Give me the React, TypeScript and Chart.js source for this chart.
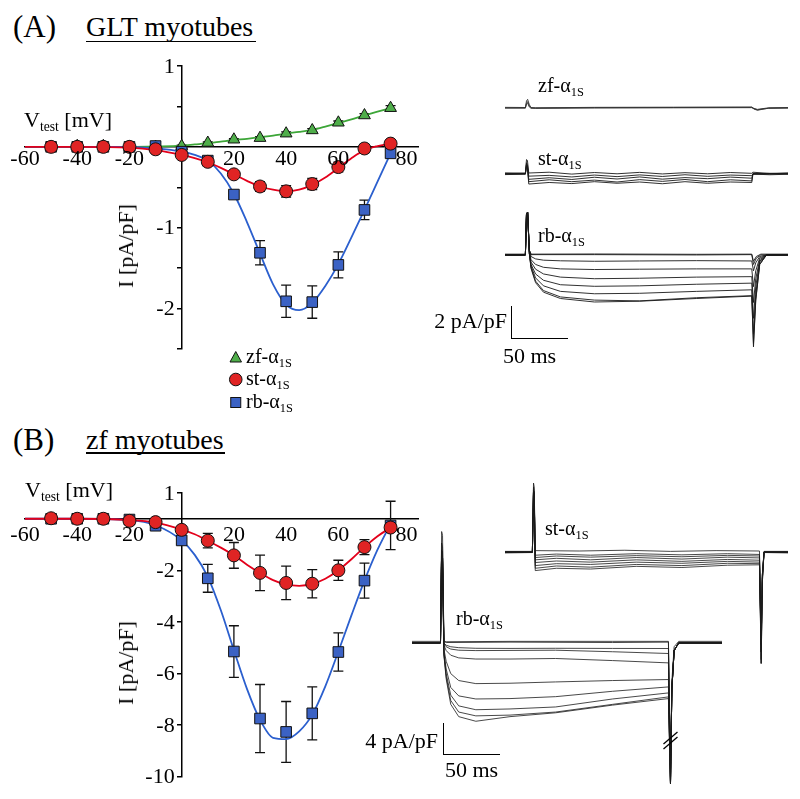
import React, { useEffect, useRef } from "react";
import { Chart, registerables } from "chart.js";

Chart.register(...registerables);

const FONT = "'Liberation Serif','Times New Roman',Times,serif";
Chart.defaults.font.family = FONT;
Chart.defaults.color = "#000";

// ---------------- I-V data ----------------
const VOLTAGES = [-50, -40, -30, -20, -10, 0, 10, 20, 30, 40, 50, 60, 70, 80];
const X_TICKS = [-60, -40, -20, 0, 20, 40, 60, 80];
const X_LABELS = [-60, -40, -20, 20, 40, 60, 80];

// Panel A (GLT myotubes)
const A_Y_TICKS = [-2.5, -2, -1.5, -1, -0.5, 0, 0.5, 1];
const A_Y_LABELS = [1, -1, -2];
const A_ZF = [0, 0.01, 0.01, 0, 0, 0.01, 0.05, 0.09, 0.11, 0.165, 0.205, 0.3, 0.39, 0.48];
const A_ZF_ERR = [0, 0, 0, 0, 0, 0.01, 0.01, 0.01, 0.015, 0.02, 0.02, 0.02, 0.02, 0.03];
const A_ST = [0, 0, 0, 0, -0.03, -0.1, -0.185, -0.34, -0.49, -0.55, -0.46, -0.25, -0.02, 0.04];
const A_ST_ERR = [0, 0, 0, 0, 0.02, 0.02, 0.03, 0.04, 0.06, 0.07, 0.07, 0.06, 0.05, 0.02];
const A_RB = [0, 0, 0, 0, 0.01, -0.06, -0.17, -0.59, -1.31, -1.91, -1.92, -1.46, -0.78, -0.08];
const A_RB_ERR = [0, 0, 0, 0, 0, 0.02, 0.03, 0.04, 0.15, 0.2, 0.2, 0.16, 0.12, 0.05];

// Fitted curves
const FIT_V = [-60, -40, -20, -10, 0, 5, 10, 15, 20, 25, 30, 35, 40, 45, 50, 55, 60, 65, 70, 75, 80];
const A_ZF_FIT = [0, 0, 0, 0.005, 0.015, 0.03, 0.045, 0.065, 0.085, 0.1, 0.12, 0.14, 0.165, 0.185, 0.21, 0.25, 0.295, 0.34, 0.39, 0.435, 0.48];
const A_ST_FIT = [0, 0, -0.01, -0.04, -0.1, -0.14, -0.19, -0.26, -0.34, -0.42, -0.49, -0.53, -0.55, -0.53, -0.47, -0.38, -0.26, -0.14, -0.04, 0.01, 0.04];
const A_RB_FIT = [0, 0, 0, -0.02, -0.06, -0.1, -0.17, -0.33, -0.58, -0.93, -1.32, -1.7, -1.95, -2.02, -1.93, -1.72, -1.45, -1.12, -0.78, -0.43, -0.08];

// Panel B (zf myotubes)
const B_Y_TICKS = [-10, -8, -6, -4, -2, 0, 1];
const B_Y_LABELS = [1, -2, -4, -6, -8, -10];
const B_ST = [0.02, 0, 0, -0.08, -0.13, -0.43, -0.85, -1.42, -2.1, -2.49, -2.52, -2.0, -1.1, -0.34];
const B_ST_ERR = [0.05, 0.05, 0.05, 0.05, 0.05, 0.1, 0.28, 0.5, 0.69, 0.65, 0.55, 0.39, 0.29, 0.1];
const B_RB = [0, 0, 0, -0.03, -0.27, -0.84, -2.31, -5.15, -7.75, -8.27, -7.55, -5.17, -2.4, -0.26];
const B_RB_ERR = [0.05, 0.05, 0.05, 0.05, 0.1, 0.15, 0.54, 1.0, 1.32, 1.18, 1.03, 0.74, 0.68, 0.94];
const B_ST_FIT = [0, 0, -0.05, -0.15, -0.42, -0.6, -0.85, -1.12, -1.42, -1.78, -2.1, -2.38, -2.55, -2.6, -2.53, -2.33, -2.0, -1.57, -1.1, -0.68, -0.34];
const B_RB_FIT = [0, 0, -0.05, -0.25, -0.84, -1.4, -2.25, -3.55, -5.1, -6.6, -7.8, -8.5, -8.55, -8.25, -7.6, -6.5, -5.15, -3.75, -2.4, -1.2, -0.2];

// ---------------- current traces ([ms, pA/pF]) ----------------
const ZF_A_SWEEPS = [
  [[-19, 0], [-1, 0], [0, 0.45], [1, 0.55], [2.5, 0.2], [4, 0.02], [8, -0.02], [60, 0.01], [130, 0.02], [199, 0.03], [201, -0.08], [204, -0.16], [208, -0.1], [214, -0.02], [231, 0]],
  [[-19, 0.03], [-1, 0.02], [0, 0.3], [1, 0.4], [2.5, 0.12], [4, 0], [8, 0], [60, 0.03], [130, 0.04], [199, 0.05], [201, -0.04], [204, -0.1], [208, -0.06], [214, 0], [231, 0.02]],
  [[-19, -0.02], [-1, -0.02], [0, 0.25], [1, 0.3], [2.5, 0.05], [4, -0.03], [8, -0.03], [60, -0.01], [130, 0], [199, 0.01], [201, -0.06], [204, -0.13], [208, -0.08], [214, -0.03], [231, -0.02]],
];

const ST_A_SWEEPS = [
  [[-19, 0.05], [-1, 0.05], [0, 0.9], [0.8, 0.85], [2, 0.05], [20, 0.1], [40, -0.02], [60, 0.08], [80, 0], [100, 0.09], [120, -0.01], [140, 0.07], [160, 0], [180, 0.08], [199, 0.03], [200, 0.1], [215, 0.02], [231, 0.06]],
  [[-19, -0.05], [-1, -0.03], [0, 0.7], [0.8, 0.6], [2, -0.15], [20, -0.1], [40, -0.2], [60, -0.08], [80, -0.18], [100, -0.07], [120, -0.17], [140, -0.06], [160, -0.16], [180, -0.08], [199, -0.12], [200, -0.02], [215, -0.06], [231, -0.03]],
  [[-19, 0], [-1, 0.02], [0, 0.6], [0.8, 0.5], [2, -0.35], [20, -0.25], [40, -0.36], [60, -0.22], [80, -0.33], [100, -0.2], [120, -0.34], [140, -0.24], [160, -0.31], [180, -0.21], [199, -0.28], [200, 0], [215, 0.03], [231, 0]],
  [[-19, 0.03], [-1, 0], [0, 0.5], [0.8, 0.4], [2, -0.5], [20, -0.38], [40, -0.5], [60, -0.4], [80, -0.52], [100, -0.37], [120, -0.48], [140, -0.36], [160, -0.5], [180, -0.38], [199, -0.45], [200, 0.02], [215, -0.02], [231, 0.02]],
  [[-19, -0.02], [-1, 0], [0, 0.5], [0.8, 0.4], [2, -0.65], [20, -0.55], [40, -0.62], [60, -0.5], [80, -0.6], [100, -0.52], [120, -0.63], [140, -0.5], [160, -0.6], [180, -0.52], [199, -0.55], [200, -0.03], [215, 0.01], [231, -0.01]],
];

const RB_A_SWEEPS = [
  [[-19, 0], [-1, 0], [0, 2.6], [1, 2.7], [2.5, 0.3], [4, 0.02], [60, 0.02], [150, 0], [199, 0.02], [200.5, -0.6], [203, -0.2], [207, 0], [231, 0]],
  [[-19, 0.05], [-1, 0.05], [0, 2.5], [1, 2.6], [2.5, 0.3], [4, 0.05], [60, 0.06], [150, 0.04], [199, 0.05], [200.5, -0.4], [203, -0.1], [207, 0.05], [231, 0.05]],
  [[-19, 0], [-1, 0], [0, 2.6], [1, 2.7], [2.5, 0.3], [4, -0.1], [8, -0.25], [15, -0.33], [30, -0.37], [60, -0.4], [100, -0.38], [150, -0.36], [199, -0.38], [200.5, -1.0], [202.5, -0.5], [206, -0.1], [212, 0], [231, 0]],
  [[-19, 0], [-1, 0], [0, 2.6], [1, 2.7], [2.5, 0.2], [4, -0.3], [8, -0.6], [15, -0.78], [30, -0.88], [60, -0.92], [100, -0.9], [150, -0.88], [199, -0.88], [200.5, -2.0], [202.5, -1.0], [206, -0.2], [212, 0], [231, 0]],
  [[-19, 0], [-1, 0], [0, 2.6], [1, 2.7], [2.5, 0.2], [4, -0.45], [8, -0.9], [15, -1.2], [30, -1.4], [60, -1.5], [100, -1.47], [150, -1.4], [199, -1.37], [200.5, -3.0], [202.5, -1.5], [206, -0.3], [212, 0], [231, 0]],
  [[-19, 0], [-1, 0], [0, 2.6], [1, 2.7], [2.5, 0.1], [4, -0.6], [8, -1.2], [15, -1.6], [30, -1.88], [60, -1.98], [100, -1.95], [150, -1.85], [199, -1.78], [200.5, -4.0], [202.5, -2.0], [206, -0.4], [212, 0], [231, 0]],
  [[-19, 0], [-1, 0], [0, 2.6], [1, 2.7], [2.5, 0.1], [4, -0.7], [8, -1.45], [15, -1.95], [30, -2.3], [60, -2.45], [100, -2.42], [150, -2.3], [199, -2.2], [200.5, -5.0], [202.5, -2.5], [206, -0.5], [212, 0], [231, 0]],
  [[-19, 0], [-1, 0], [0, 2.6], [1, 2.7], [2.5, 0.1], [4, -0.8], [8, -1.65], [15, -2.25], [30, -2.65], [60, -2.85], [100, -2.9], [150, -2.7], [199, -2.57], [200.5, -5.8], [202.5, -2.9], [206, -0.6], [212, 0], [231, 0]],
  [[-19, 0], [-1, 0], [0, 2.6], [1, 2.7], [2.5, 0.1], [4, -0.85], [8, -1.75], [15, -2.35], [30, -2.75], [60, -2.97], [100, -2.92], [150, -2.75], [199, -2.6], [200.5, -5.6], [202.5, -2.8], [206, -0.6], [212, 0], [231, 0]],
];

const ST_B_SWEEPS = [
  [[-25, 0.1], [-1, 0.1], [0, 9], [0.6, 8.5], [1.5, 0.2], [40, 0.15], [80, 0.25], [120, 0.1], [160, 0.2], [198, 0.15], [199.5, -14.5], [200.5, -4], [202, 0.1], [223, 0.1]],
  [[-25, -0.1], [-1, -0.05], [0, 8.5], [0.6, 8], [1.5, -0.4], [20, -0.25], [50, -0.4], [90, -0.2], [130, -0.35], [170, -0.2], [198, -0.3], [199.5, -13], [200.5, -3.5], [202, -0.05], [223, -0.1]],
  [[-25, 0], [-1, 0], [0, 8], [0.6, 7.5], [1.5, -0.7], [20, -0.5], [50, -0.65], [90, -0.45], [130, -0.6], [170, -0.42], [198, -0.5], [199.5, -12], [200.5, -3], [202, 0], [223, 0]],
  [[-25, 0.05], [-1, 0.05], [0, 8], [0.6, 7.5], [1.5, -1.0], [20, -0.8], [50, -1.0], [90, -0.7], [130, -0.9], [170, -0.65], [198, -0.75], [199.5, -12], [200.5, -3], [202, 0.05], [223, 0.05]],
  [[-25, -0.05], [-1, 0], [0, 8], [0.6, 7.5], [1.5, -1.35], [20, -1.15], [50, -1.3], [90, -1.0], [130, -1.2], [170, -0.95], [198, -1.05], [199.5, -12], [200.5, -3], [202, 0], [223, -0.05]],
  [[-25, 0], [-1, 0], [0, 8], [0.6, 7.5], [1.5, -1.75], [20, -1.5], [50, -1.6], [90, -1.3], [130, -1.45], [170, -1.2], [198, -1.3], [199.5, -13], [200.5, -3.5], [202, 0], [223, 0]],
  [[-25, 0.05], [-1, 0], [0, 8], [0.6, 7.5], [1.5, -2.1], [20, -1.8], [50, -1.95], [90, -1.6], [130, -1.75], [170, -1.45], [198, -1.5], [199.5, -14], [200.5, -3.5], [202, 0.05], [223, 0]],
  [[-25, 0], [-1, 0], [0, 8], [0.6, 7.5], [1.5, -2.4], [20, -2.1], [50, -2.2], [90, -1.85], [130, -2.0], [170, -1.7], [198, -1.65], [199.5, -14.5], [200.5, -4], [202, 0], [223, 0]],
];

const RB_B_SWEEPS = [
  [[-26, 0], [-1, 0], [0, 14.5], [0.8, 14], [2, 0.2], [4, 0.05], [60, 0.1], [150, 0.05], [199, 0.1], [200.8, -18.3], [202, -6], [204, -1], [208, 0], [246, 0]],
  [[-26, 0.2], [-1, 0.2], [0, 13], [0.8, 12.5], [2, 0.2], [4, 0.15], [60, 0.2], [150, 0.2], [199, 0.2], [200.8, -16], [202, -5], [204, -0.5], [208, 0.2], [246, 0.2]],
  [[-26, 0], [-1, 0], [0, 12], [0.8, 11], [2, 0], [4, -0.3], [8, -0.5], [15, -0.62], [30, -0.7], [60, -0.72], [100, -0.7], [150, -0.72], [199, -0.73], [200.8, -18.3], [202, -6], [204, -1], [208, 0], [246, 0]],
  [[-26, 0], [-1, 0], [0, 12], [0.8, 11], [2, -0.1], [4, -0.5], [8, -0.8], [15, -0.95], [30, -1.0], [60, -0.98], [100, -0.95], [150, -1.15], [199, -1.38], [200.8, -18.3], [202, -6], [204, -1], [208, 0], [246, 0]],
  [[-26, 0], [-1, 0], [0, 12], [0.8, 11], [2, -0.3], [4, -1.0], [8, -1.6], [15, -1.95], [30, -2.1], [60, -2.1], [100, -2.03], [150, -2.3], [199, -2.6], [200.8, -18.3], [202, -6], [204, -1], [208, 0], [246, 0]],
  [[-26, 0], [-1, 0], [0, 12], [0.8, 11], [2, -0.8], [4, -2.4], [8, -4.0], [15, -4.9], [30, -5.3], [60, -5.25], [100, -5.08], [150, -4.9], [199, -4.77], [200.8, -18.3], [202, -6], [204, -1], [208, 0], [246, 0]],
  [[-26, 0], [-1, 0], [0, 12], [0.8, 11], [2, -1.2], [4, -3.4], [8, -5.8], [15, -6.9], [30, -7.3], [60, -7.25], [100, -7.0], [150, -6.3], [199, -5.73], [200.8, -18.3], [202, -6], [204, -1], [208, 0], [246, 0]],
  [[-26, 0], [-1, 0], [0, 12], [0.8, 11], [2, -1.4], [4, -4.0], [8, -6.8], [15, -8.2], [30, -8.7], [60, -8.6], [100, -8.34], [150, -7.3], [199, -6.51], [200.8, -18.3], [202, -6], [204, -1], [208, 0], [246, 0]],
  [[-26, 0], [-1, 0], [0, 12], [0.8, 11], [2, -1.5], [4, -4.4], [8, -7.5], [15, -9.0], [30, -9.5], [60, -9.4], [100, -9.0], [150, -8.0], [199, -7.03], [200.8, -18.3], [202, -6], [204, -1], [208, 0], [246, 0]],
  [[-26, 0], [-1, 0], [0, 12], [0.8, 11], [2, -1.6], [4, -4.7], [8, -8.0], [15, -9.6], [30, -10.2], [60, -9.6], [100, -9.1], [150, -8.1], [199, -7.25], [200.8, -18.3], [202, -6], [204, -1], [208, 0], [246, 0]],
];

// ---------------- colours ----------------
const GREEN = "#4fae4a";
const GREEN_LINE = "#3da638";
const RED = "#e02424";
const RED_LINE = "#e3001b";
const BLUE = "#3b62c4";
const BLUE_LINE = "#2b5fce";

// ---------------- plugins ----------------
const errorBarPlugin = {
  id: "errbars",
  beforeDatasetsDraw(chart: any) {
    const ctx = chart.ctx;
    const xs = chart.scales.x;
    const ys = chart.scales.y;
    chart.data.datasets.forEach((ds: any) => {
      if (!ds.errors) return;
      ctx.save();
      ctx.strokeStyle = "#111";
      ctx.lineWidth = 1.3;
      ds.data.forEach((p: any, i: number) => {
        const e = ds.errors[i];
        if (!e) return;
        const x = xs.getPixelForValue(p.x);
        const y1 = ys.getPixelForValue(p.y + e);
        const y2 = ys.getPixelForValue(p.y - e);
        ctx.beginPath();
        ctx.moveTo(x, y1);
        ctx.lineTo(x, y2);
        ctx.moveTo(x - 5, y1);
        ctx.lineTo(x + 5, y1);
        ctx.moveTo(x - 5, y2);
        ctx.lineTo(x + 5, y2);
        ctx.stroke();
      });
      ctx.restore();
    });
  },
};

// Tick labels drawn beside the crossing axes
const axisLabelPlugin = {
  id: "axisLabels",
  afterDraw(chart: any) {
    const opts = chart.options.plugins.axisLabels || {};
    const ctx = chart.ctx;
    const xs = chart.scales.x;
    const ys = chart.scales.y;
    const xAxisY = ys.getPixelForValue(0);
    const yAxisX = xs.getPixelForValue(0);
    ctx.save();
    ctx.fillStyle = "#000";
    ctx.font = `22px ${FONT}`;
    ctx.textAlign = "center";
    ctx.textBaseline = "alphabetic";
    X_LABELS.forEach((v) => {
      const shift = v === 80 ? 16 : 0;
      ctx.fillText(String(v), xs.getPixelForValue(v) + shift, xAxisY + (opts.xDrop || 18));
    });
    ctx.textAlign = "right";
    ctx.textBaseline = "middle";
    (opts.yLabels || []).forEach((v: number) => {
      ctx.fillText(String(v), yAxisX - 7, ys.getPixelForValue(v) + 1);
    });
    ctx.restore();
  },
};

const BREAK_T = 200.8;
const BREAK_I = -12.7;
const breakPlugin = {
  id: "breakmark",
  afterDatasetsDraw(chart: any) {
    const ctx = chart.ctx;
    const x = chart.scales.x.getPixelForValue(BREAK_T);
    const y = chart.scales.y.getPixelForValue(BREAK_I);
    ctx.save();
    ctx.strokeStyle = "#000";
    ctx.lineWidth = 1.3;
    [-2.5, 2.5].forEach((d) => {
      ctx.beginPath();
      ctx.moveTo(x - 7, y + d + 6);
      ctx.lineTo(x + 7, y + d - 6);
      ctx.stroke();
    });
    ctx.restore();
  },
};

// ---------------- components ----------------
type Series = {
  values: number[];
  errors: number[];
  fit: number[];
  color: string;
  line: string;
  style: string;
  radius: number;
  order: number;
};

function IVChart(props: {
  left: number;
  top: number;
  width: number;
  height: number;
  pad: { left: number; right: number; top: number; bottom: number };
  yMin: number;
  yMax: number;
  yTicks: number[];
  yLabels: number[];
  xDrop: number;
  series: Series[];
}) {
  const ref = useRef<HTMLCanvasElement>(null);
  useEffect(() => {
    const datasets: any[] = [];
    props.series.forEach((s) => {
      datasets.push({
        data: FIT_V.map((v, i) => ({ x: v, y: s.fit[i] })),
        showLine: true,
        borderColor: s.line,
        borderWidth: 1.8,
        pointRadius: 0,
        cubicInterpolationMode: "monotone",
        order: 10 + s.order,
      });
      datasets.push({
        data: VOLTAGES.map((v, i) => ({ x: v, y: s.values[i] })),
        errors: s.errors,
        showLine: false,
        pointStyle: s.style,
        pointRadius: s.radius,
        pointBackgroundColor: s.color,
        pointBorderColor: "#111",
        pointBorderWidth: 1,
        order: s.order,
      });
    });
    const chart = new Chart(ref.current as HTMLCanvasElement, {
      type: "scatter",
      data: { datasets },
      options: {
        animation: false,
        responsive: false,
        devicePixelRatio: 1,
        events: [],
        layout: { padding: props.pad },
        plugins: {
          legend: { display: false },
          tooltip: { enabled: false },
          axisLabels: { yLabels: props.yLabels, xDrop: props.xDrop },
        },
        scales: {
          x: {
            type: "linear",
            min: -60,
            max: 90.5,
            position: { y: 0 } as any,
            afterBuildTicks: (ax: any) => {
              ax.ticks = X_TICKS.map((v) => ({ value: v }));
            },
            grid: { display: true, drawOnChartArea: false, drawTicks: false },
            border: { display: true, color: "#000", width: 1.5 },
            ticks: { display: false },
          },
          y: {
            type: "linear",
            min: props.yMin,
            max: props.yMax,
            position: { x: 0 } as any,
            afterBuildTicks: (ax: any) => {
              ax.ticks = props.yTicks.map((v) => ({ value: v }));
            },
            grid: {
              display: true,
              drawOnChartArea: false,
              drawTicks: true,
              tickLength: 4,
              lineWidth: 1.5,
              color: (ctx: any) =>
                ctx.tick && ctx.tick.value !== 0 ? "#000" : "rgba(0,0,0,0)",
            },
            border: { display: true, color: "#000", width: 1.5 },
            ticks: { display: false },
          },
        },
      },
      plugins: [errorBarPlugin, axisLabelPlugin],
    } as any);
    return () => chart.destroy();
  }, []);
  return (
    <canvas
      ref={ref}
      width={props.width}
      height={props.height}
      style={{ position: "absolute", left: props.left, top: props.top, width: props.width, height: props.height }}
    />
  );
}

function TraceChart(props: {
  x0: number;
  y0: number;
  pxMs: number;
  pxI: number;
  tMin: number;
  tMax: number;
  iMin: number;
  iMax: number;
  sweeps: number[][][];
  color?: string;
  lineWidth?: number;
  plugins?: any[];
}) {
  const ref = useRef<HTMLCanvasElement>(null);
  const pad = 3;
  const left = Math.round(props.x0 + props.tMin * props.pxMs - pad);
  const top = Math.round(props.y0 - props.iMax * props.pxI - pad);
  const w = Math.round((props.tMax - props.tMin) * props.pxMs + 2 * pad);
  const h = Math.round((props.iMax - props.iMin) * props.pxI + 2 * pad);
  useEffect(() => {
    const chart = new Chart(ref.current as HTMLCanvasElement, {
      type: "line",
      data: {
        datasets: props.sweeps.map((s) => ({
          data: s.map(([t, i]) => ({ x: t, y: i })),
          borderColor: props.color || "#1a1a1a",
          borderWidth: props.lineWidth || 0.9,
          pointRadius: 0,
          tension: 0,
          fill: false,
          clip: false,
        })),
      },
      options: {
        animation: false,
        responsive: false,
        devicePixelRatio: 1,
        events: [],
        layout: { padding: pad },
        plugins: { legend: { display: false }, tooltip: { enabled: false } },
        scales: {
          x: { type: "linear", min: props.tMin, max: props.tMax, display: false },
          y: { type: "linear", min: props.iMin, max: props.iMax, display: false },
        },
      },
      plugins: props.plugins || [],
    } as any);
    return () => chart.destroy();
  }, []);
  return (
    <canvas ref={ref} width={w} height={h} style={{ position: "absolute", left, top, width: w, height: h }} />
  );
}

function Txt(props: { x: number; y: number; size: number; anchor?: string; children: any }) {
  const { x, y, size, anchor } = props;
  return (
    <div
      style={{
        position: "absolute",
        left: x,
        top: y - 0.8375 * size,
        fontSize: size,
        lineHeight: `${size}px`,
        fontFamily: FONT,
        color: "#000",
        whiteSpace: "nowrap",
        transform: anchor === "end" ? "translateX(-100%)" : anchor === "middle" ? "translateX(-50%)" : undefined,
      }}
    >
      {props.children}
    </div>
  );
}

const Sub = (p: { children: any }) => (
  <span style={{ fontSize: "0.62em", verticalAlign: "-0.32em" }}>{p.children}</span>
);

function Alpha(props: { name: string }) {
  return (
    <>
      {props.name}-α<Sub>1S</Sub>
    </>
  );
}

function YTitle(props: { x: number; y: number }) {
  return (
    <div
      style={{
        position: "absolute",
        left: props.x,
        top: props.y,
        fontSize: 22,
        lineHeight: "22px",
        fontFamily: FONT,
        whiteSpace: "nowrap",
        transform: "translate(-50%,-50%) rotate(-90deg)",
      }}
    >
      I [pA/pF]
    </div>
  );
}

function ScaleBar(props: { left: number; top: number; width: number; height: number }) {
  return (
    <div
      style={{
        position: "absolute",
        left: props.left,
        top: props.top,
        width: props.width,
        height: props.height,
        borderLeft: "1.5px solid #000",
        borderBottom: "1.5px solid #000",
        boxSizing: "border-box",
      }}
    />
  );
}

export default function App() {
  const seriesA: Series[] = [
    { values: A_ZF, errors: A_ZF_ERR, fit: A_ZF_FIT, color: GREEN, line: GREEN_LINE, style: "triangle", radius: 6.8, order: 2 },
    { values: A_RB, errors: A_RB_ERR, fit: A_RB_FIT, color: BLUE, line: BLUE_LINE, style: "rect", radius: 7.5, order: 1 },
    { values: A_ST, errors: A_ST_ERR, fit: A_ST_FIT, color: RED, line: RED_LINE, style: "circle", radius: 6.5, order: 0 },
  ];
  const seriesB: Series[] = [
    { values: B_RB, errors: B_RB_ERR, fit: B_RB_FIT, color: BLUE, line: BLUE_LINE, style: "rect", radius: 7.5, order: 1 },
    { values: B_ST, errors: B_ST_ERR, fit: B_ST_FIT, color: RED, line: RED_LINE, style: "circle", radius: 6.5, order: 0 },
  ];
  return (
    <div style={{ position: "absolute", left: 0, top: 0, width: 800, height: 799, background: "#fff", overflow: "hidden" }}>
      {/* Titles */}
      <Txt x={13} y={37} size={31}>(A)</Txt>
      <Txt x={86} y={36} size={28}>GLT myotubes</Txt>
      <div style={{ position: "absolute", left: 86, top: 40.5, width: 170, height: 1.5, background: "#000" }} />
      <Txt x={13} y={450} size={31}>(B)</Txt>
      <Txt x={86} y={449} size={28}>zf myotubes</Txt>
      <div style={{ position: "absolute", left: 86, top: 452, width: 139, height: 1.5, background: "#000" }} />

      {/* Panel A I-V */}
      <IVChart
        left={0}
        top={40}
        width={460}
        height={340}
        pad={{ left: 25, right: 42, top: 26, bottom: 31 }}
        yMin={-2.5}
        yMax={1}
        yTicks={A_Y_TICKS}
        yLabels={A_Y_LABELS}
        xDrop={18.3}
        series={seriesA}
      />
      <Txt x={24} y={127} size={22}>
        V<Sub>test</Sub> [mV]
      </Txt>
      <YTitle x={126} y={246} />

      {/* Legend A */}
      <svg style={{ position: "absolute", left: 226, top: 348, width: 20, height: 64 }} width={20} height={64}>
        <polygon points="4,14 15.5,14 9.75,3.5" fill={GREEN} stroke="#111" strokeWidth={1} />
        <circle cx={9.75} cy={31.5} r={6.3} fill={RED} stroke="#111" strokeWidth={1} />
        <rect x={4.75} y={49.5} width={10} height={10} fill={BLUE} stroke="#111" strokeWidth={1} />
      </svg>
      <Txt x={246} y={363} size={20}><Alpha name="zf" /></Txt>
      <Txt x={246} y={385} size={20}><Alpha name="st" /></Txt>
      <Txt x={246} y={408} size={20}><Alpha name="rb" /></Txt>

      {/* Panel A traces */}
      <TraceChart x0={526.7} y0={107.7} pxMs={1.13} pxI={15.85} tMin={-19} tMax={231} iMin={-0.4} iMax={0.7} sweeps={ZF_A_SWEEPS} color="#333" />
      <TraceChart x0={526.7} y0={174.3} pxMs={1.13} pxI={15.85} tMin={-19} tMax={231} iMin={-0.9} iMax={1.0} sweeps={ST_A_SWEEPS} />
      <TraceChart x0={526.7} y0={255} pxMs={1.13} pxI={15.85} tMin={-19} tMax={231} iMin={-6.0} iMax={2.9} sweeps={RB_A_SWEEPS} />
      <Txt x={538} y={92} size={20}><Alpha name="zf" /></Txt>
      <Txt x={538} y={165} size={20}><Alpha name="st" /></Txt>
      <Txt x={538} y={242} size={20}><Alpha name="rb" /></Txt>
      <ScaleBar left={511} top={306} width={57} height={33} />
      <Txt x={507} y={328} size={22} anchor="end">2 pA/pF</Txt>
      <Txt x={503} y={363} size={22}>50 ms</Txt>

      {/* Panel B I-V */}
      <IVChart
        left={0}
        top={470}
        width={460}
        height={325}
        pad={{ left: 25, right: 42, top: 23, bottom: 18.5 }}
        yMin={-10}
        yMax={1}
        yTicks={B_Y_TICKS}
        yLabels={B_Y_LABELS}
        xDrop={22.5}
        series={seriesB}
      />
      <Txt x={25} y={497} size={22}>
        V<Sub>test</Sub> [mV]
      </Txt>
      <YTitle x={126} y={663} />

      {/* Panel B traces */}
      <TraceChart x0={533.3} y0={551.7} pxMs={1.14} pxI={7.675} tMin={-25} tMax={223} iMin={-14.7} iMax={9.4} sweeps={ST_B_SWEEPS} lineWidth={0.8} />
      <TraceChart x0={441.7} y0={642.7} pxMs={1.14} pxI={7.675} tMin={-26} tMax={246} iMin={-18.5} iMax={14.7} sweeps={RB_B_SWEEPS} lineWidth={0.8} plugins={[breakPlugin]} />
      <Txt x={545} y={535} size={20}><Alpha name="st" /></Txt>
      <Txt x={456} y={625} size={20}><Alpha name="rb" /></Txt>
      <ScaleBar left={443} top={723} width={57} height={32} />
      <Txt x={438} y={748} size={22} anchor="end">4 pA/pF</Txt>
      <Txt x={445} y={777} size={22}>50 ms</Txt>
    </div>
  );
}
